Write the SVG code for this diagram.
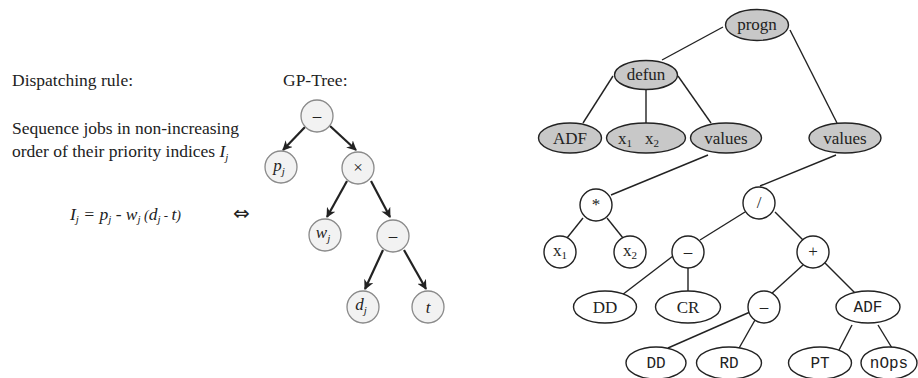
<svg xmlns="http://www.w3.org/2000/svg" width="918" height="378" viewBox="0 0 918 378">
<style>
  .t { font-family: "Liberation Serif", "Times New Roman", serif; fill: #222; }
  .lbl { font-size: 17.5px; }
  .it { font-style: italic; }
  .mono { font-family: "Liberation Mono", "Courier New", monospace; font-size: 16px; fill: #222; }
  .gc { fill: #f2f2f2; stroke: #8a8a8a; stroke-width: 1.3; }
  .arr { stroke: #222; stroke-width: 2.2; fill: none; marker-end: url(#ah); }
  .gn { fill: #c8c8c8; stroke: #222; stroke-width: 1.4; }
  .wn { fill: #ffffff; stroke: #222; stroke-width: 1.4; }
  .ln { stroke: #222; stroke-width: 1.4; fill: none; }
  .nt { font-family: "Liberation Serif", "Times New Roman", serif; font-size: 17px; fill: #222; text-anchor: middle; }
  .sub { font-size: 11px; }
</style>
<defs>
  <marker id="ah" viewBox="0 0 10 10" refX="9" refY="5" markerWidth="4.5" markerHeight="4.5" orient="auto" markerUnits="strokeWidth">
    <path d="M0,0 L10,5 L0,10 L3,5 z" fill="#222"/>
  </marker>
</defs>
<rect width="918" height="378" fill="#ffffff"/>

<!-- Left text -->
<g id="left-text">
  <text class="t lbl" x="12" y="86">Dispatching rule:</text>
  <text class="t lbl" x="12" y="134">Sequence jobs in non-increasing</text>
  <text class="t lbl" x="12" y="157">order of their priority indices <tspan class="it">I</tspan><tspan class="it sub" dy="4">j</tspan></text>
  <text class="t lbl it" x="70" y="220">I<tspan class="sub" dy="3">j</tspan><tspan dy="-3"> = p</tspan><tspan class="sub" dy="3">j</tspan><tspan dy="-3"> - w</tspan><tspan class="sub" dy="3">j</tspan><tspan dy="-3" font-size="14"> (</tspan><tspan>d</tspan><tspan class="sub" dy="3">j</tspan><tspan dy="-3" font-size="13"> - </tspan><tspan>t</tspan><tspan font-size="14">)</tspan></text>
  <text x="233" y="220" font-family="DejaVu Sans, sans-serif" font-size="20" fill="#222">⇔</text>
  <text class="t lbl" x="283" y="86">GP-Tree:</text>
</g>

<!-- Left GP tree connectors -->
<g id="gp-connectors">
  <line class="arr" x1="305" y1="127" x2="283" y2="150"/>
  <line class="arr" x1="330" y1="126" x2="356" y2="150"/>
  <line class="arr" x1="347" y1="181" x2="327" y2="217"/>
  <line class="arr" x1="371" y1="181" x2="390" y2="217"/>
  <line class="arr" x1="383" y1="250" x2="365" y2="289"/>
  <line class="arr" x1="404" y1="250" x2="426" y2="289"/>
</g>

<!-- Left GP tree nodes -->
<g id="gp-minus1"><circle class="gc" cx="317" cy="116" r="16"/><text class="nt" x="317" y="121">–</text></g>
<g id="gp-pj"><circle class="gc" cx="281" cy="167" r="16"/><text class="nt it" x="279" y="171">p<tspan class="sub" dy="4">j</tspan></text></g>
<g id="gp-times"><circle class="gc" cx="358" cy="168" r="16"/><text class="nt" x="358" y="173" font-size="15">×</text></g>
<g id="gp-wj"><circle class="gc" cx="325" cy="235" r="16"/><text class="nt it" x="323" y="238">w<tspan class="sub" dy="4">j</tspan></text></g>
<g id="gp-minus2"><circle class="gc" cx="393" cy="236" r="16"/><text class="nt" x="393" y="241">–</text></g>
<g id="gp-dj"><circle class="gc" cx="363" cy="307" r="16"/><text class="nt it" x="361" y="310">d<tspan class="sub" dy="4">j</tspan></text></g>
<g id="gp-t"><circle class="gc" cx="428" cy="307" r="16"/><text class="nt it" x="428" y="313">t</text></g>

<!-- Right tree connectors -->
<g id="connectors">
  <line class="ln" x1="723" y1="27" x2="662" y2="60"/>
  <line class="ln" x1="790" y1="30" x2="837" y2="123"/>
  <line class="ln" x1="613" y1="76" x2="583" y2="123"/>
  <line class="ln" x1="646" y1="90" x2="646" y2="124"/>
  <line class="ln" x1="678" y1="76" x2="711" y2="123"/>
  <line class="ln" x1="708" y1="155" x2="611" y2="195"/>
  <line class="ln" x1="836" y1="155" x2="760" y2="186"/>
  <line class="ln" x1="583" y1="218" x2="567" y2="238"/>
  <line class="ln" x1="607" y1="218" x2="623" y2="238"/>
  <line class="ln" x1="745" y1="212" x2="700" y2="240"/>
  <line class="ln" x1="775" y1="212" x2="803" y2="240"/>
  <line class="ln" x1="673" y1="256" x2="622" y2="295"/>
  <line class="ln" x1="688" y1="267" x2="688" y2="292"/>
  <line class="ln" x1="803" y1="265" x2="770" y2="295"/>
  <line class="ln" x1="825" y1="263" x2="857" y2="295"/>
  <line class="ln" x1="750" y1="312" x2="668" y2="348"/>
  <line class="ln" x1="755" y1="320" x2="738" y2="350"/>
  <line class="ln" x1="852" y1="325" x2="838" y2="352"/>
  <line class="ln" x1="878" y1="325" x2="892" y2="348"/>
</g>

<!-- Right tree nodes -->
<g id="progn"><ellipse class="gn" cx="757" cy="25" rx="31.5" ry="15.5"/><text class="nt" x="757" y="30">progn</text></g>
<g id="defun"><ellipse class="gn" cx="646" cy="75" rx="31.5" ry="14.5"/><text class="nt" x="646" y="80">defun</text></g>
<g id="adf-top"><ellipse class="gn" cx="570" cy="138" rx="31.5" ry="15"/><text class="nt" x="570" y="144">ADF</text></g>
<g id="x1x2"><ellipse class="gn" cx="646" cy="138" rx="39.5" ry="15"/><text class="nt" x="625" y="144" text-anchor="start">x<tspan class="sub" dy="3">1</tspan><tspan x="652" dy="-3">x</tspan><tspan class="sub" dy="3">2</tspan></text></g>
<g id="values-left"><ellipse class="gn" cx="726" cy="138" rx="35.5" ry="15"/><text class="nt" x="726" y="144">values</text></g>
<g id="values-right"><ellipse class="gn" cx="845" cy="138" rx="36" ry="15"/><text class="nt" x="845" y="144">values</text></g>

<g id="mult"><circle class="wn" cx="596" cy="205" r="16"/><text class="nt" x="596" y="210" font-size="14">*</text></g>
<g id="x1"><circle class="wn" cx="560" cy="252" r="16"/><text class="nt" x="560" y="256">x<tspan class="sub" dy="3">1</tspan></text></g>
<g id="x2"><circle class="wn" cx="630" cy="252" r="16"/><text class="nt" x="630" y="256">x<tspan class="sub" dy="3">2</tspan></text></g>
<g id="div"><circle class="wn" cx="759" cy="203" r="16"/><text class="nt" x="759" y="208" font-size="15">/</text></g>
<g id="minus-a"><circle class="wn" cx="688" cy="252" r="16"/><text class="nt" x="688" y="257" font-size="15">–</text></g>
<g id="plus"><circle class="wn" cx="813" cy="252" r="16"/><text class="nt" x="813" y="257" font-size="15">+</text></g>
<g id="dd-mid"><ellipse class="wn" cx="605" cy="307" rx="31.5" ry="16"/><text class="nt" x="605" y="313">DD</text></g>
<g id="cr"><ellipse class="wn" cx="688" cy="307" rx="32.5" ry="16"/><text class="nt" x="688" y="313">CR</text></g>
<g id="minus-b"><circle class="wn" cx="764" cy="307" r="16"/><text class="nt" x="764" y="312" font-size="15">–</text></g>
<g id="adf-low"><ellipse class="wn" cx="868" cy="307" rx="32" ry="16"/><text class="mono" x="868" y="312" text-anchor="middle">ADF</text></g>
<g id="dd-low"><ellipse class="wn" cx="656" cy="363" rx="30" ry="16"/><text class="mono" x="656" y="368" text-anchor="middle">DD</text></g>
<g id="rd"><ellipse class="wn" cx="729" cy="363" rx="32.5" ry="16"/><text class="mono" x="729" y="368" text-anchor="middle">RD</text></g>
<g id="pt"><ellipse class="wn" cx="820" cy="363" rx="31.5" ry="16"/><text class="mono" x="820" y="368" text-anchor="middle">PT</text></g>
<g id="nops"><ellipse class="wn" cx="889" cy="363" rx="28" ry="16"/><text class="mono" x="889" y="368" text-anchor="middle">nOps</text></g>
</svg>
